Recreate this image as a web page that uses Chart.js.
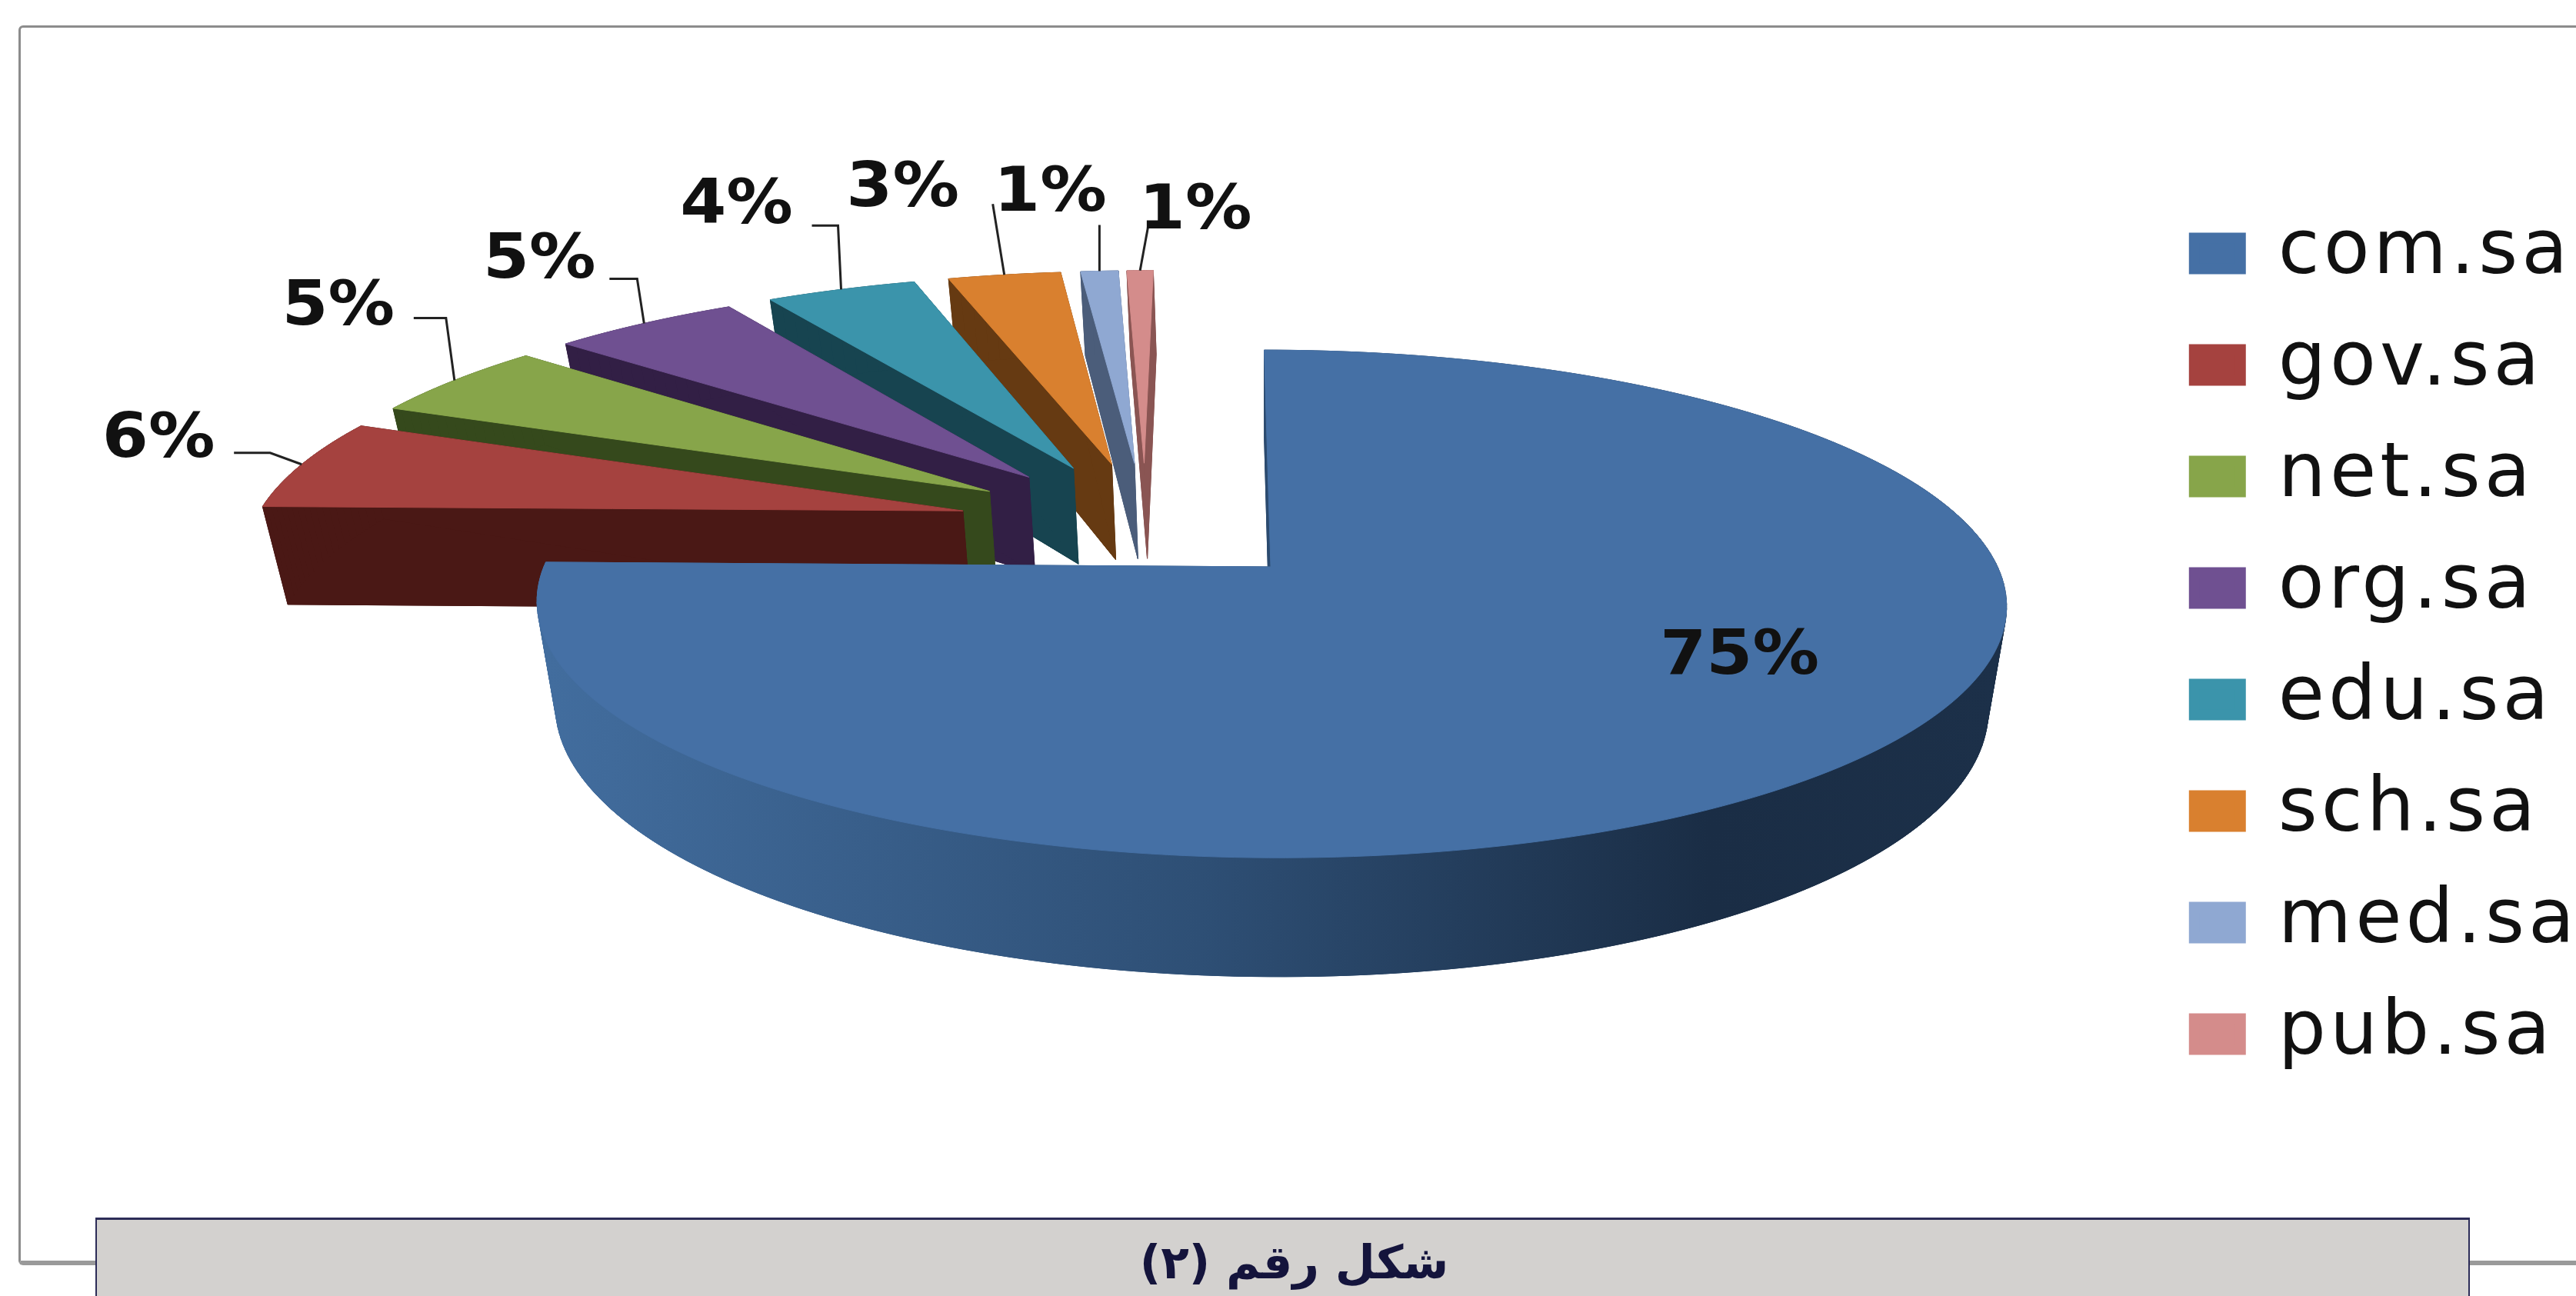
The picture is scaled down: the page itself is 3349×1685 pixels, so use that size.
<!DOCTYPE html>
<html lang="ar">
<head>
<meta charset="utf-8">
<title>شكل رقم (٢)</title>
<script src="https://cdn.jsdelivr.net/npm/chart.js@4"></script>
<style>
  html, body { margin: 0; padding: 0; background: #fff; }
  body { position: relative; width: 3349px; height: 1685px; overflow: hidden; }
  #frame {
    position: absolute; left: 24px; top: 33px; width: 3400px; height: 1603px;
    border: 3px solid #8c8c8c; border-bottom: 6px solid #9a9a9a; border-radius: 6px;
  }
  #chart { position: absolute; left: 0; top: 0; }
  #caption {
    position: absolute; left: 124px; top: 1583px; width: 3087px; height: 102px;
    box-sizing: border-box; background: #d3d1cf; padding-left: 30px;
    border: 2px solid #2c2c58; border-top-width: 3px; border-bottom: 0;
    font: bold 60px "DejaVu Sans", sans-serif; color: #14143c;
    text-align: center; line-height: 110px; direction: rtl;
  }
</style>
</head>
<body>
<div id="frame"></div>
<canvas id="chart" width="3349" height="1685"></canvas>
<div id="caption">شكل رقم (٢)</div>
<script>
// Data
const categories = ['com.sa', 'gov.sa', 'net.sa', 'org.sa', 'edu.sa', 'sch.sa', 'med.sa', 'pub.sa'];
const shares = [75.3, 6, 5, 5, 4, 3, 1, 0.7];

// Colours
const topColors = ['#4570a5', '#a5423f', '#87a54a', '#6f5091', '#3b94ab', '#d9802f', '#8fa8d2', '#d48c8b'];
const sideColors = ['#2e4f75', '#4a1815', '#35491c', '#321f45', '#174450', '#663a12', '#4b5d7a', '#8a5553'];

// How far each slice is pulled out of the pie
const explode = [183, 195, 195, 195, 195, 195, 195, 195];

// Where each label sits, relative to the middle of its slice's outer edge
const labelOffsets = [[-137, -139], [-186, -31], [-151, -93], [-136, -80], [-136, -107], [-132, -110], [-64, -99], [72, -76]];
const leaderLines = [
  [],
  [[-41, -15], [-88, -15]],
  [[-11, -81], [-53, -81]],
  [[-9, -58], [-45, -58]],
  [[-4, -83], [-38, -83]],
  [[-15, -92]],
  [[0, -60]],
  [[11, -60]]
];

// Perspective used to lay the pie down
const view = { cx: 1652, cy: 737, rx: 945, ry: 323, tilt: 0.146, depth: 132, shrink: 0.975, skew: 0.03 };

function projectTop(u, v) {
  const w = 1 - view.tilt * v;
  const y = view.cy + view.ry * v / w;
  return { x: view.cx + view.rx * u / w + view.skew * (y - view.cy), y: y, w: w };
}

function projectBottom(u, v) {
  const p = projectTop(u, v);
  return { x: view.cx + (p.x - view.cx) * view.shrink, y: p.y + view.depth / p.w };
}

// Outline of one slice, in units of the pie radius
function sliceOutline(arc, origin) {
  const mid = (arc.startAngle + arc.endAngle) / 2;
  const offset = arc.options.offset;
  const ax = arc.x + Math.cos(mid) * offset;
  const ay = arc.y + Math.sin(mid) * offset;
  const apex = { u: (ax - origin.x) / origin.r, v: (ay - origin.y) / origin.r };
  const pts = [apex];
  const steps = Math.max(4, Math.ceil((arc.endAngle - arc.startAngle) / 0.02));
  for (let i = 0; i <= steps; i++) {
    const a = arc.startAngle + (arc.endAngle - arc.startAngle) * i / steps;
    pts.push({ u: apex.u + Math.cos(a), v: apex.v + Math.sin(a) });
  }
  return { pts: pts, anchor: { u: apex.u + Math.cos(mid), v: apex.v + Math.sin(mid) } };
}

function fillPath(ctx, pts, color) {
  ctx.beginPath();
  pts.forEach((p, i) => (i ? ctx.lineTo(p.x, p.y) : ctx.moveTo(p.x, p.y)));
  ctx.closePath();
  ctx.fillStyle = color;
  ctx.strokeStyle = color;
  ctx.lineWidth = 1;
  ctx.fill();
  ctx.stroke();
}

function drawSlice(ctx, outline, topColor, sideColor) {
  const top = outline.pts.map(p => projectTop(p.u, p.v));
  const bottom = outline.pts.map(p => projectBottom(p.u, p.v));
  fillPath(ctx, bottom, sideColor);
  top.forEach((p, i) => {
    const j = (i + 1) % top.length;
    fillPath(ctx, [p, top[j], bottom[j], bottom[i]], sideColor);
  });
  fillPath(ctx, top, topColor);
}

// Chart.js works out the arcs, this lays them down in 3D
const pie3d = {
  id: 'pie3d',
  beforeLayout(chart) {
    // legend text is wide in the original
    chart.ctx.letterSpacing = '5px';
  },
  beforeDraw(chart) {
    chart.ctx.letterSpacing = '5px';
  },
  beforeDatasetsDraw(chart) {
    const ctx = chart.ctx;
    const arcs = chart.getDatasetMeta(0).data;
    const first = arcs[0];
    const firstMid = (first.startAngle + first.endAngle) / 2;
    const origin = {
      x: first.x + Math.cos(firstMid) * first.options.offset,
      y: first.y + Math.sin(firstMid) * first.options.offset,
      r: first.outerRadius
    };
    const outlines = arcs.map(arc => sliceOutline(arc, origin));

    const wall = ctx.createLinearGradient(710, 0, 2600, 0);
    wall.addColorStop(0, '#426d9e');
    wall.addColorStop(0.45, '#2e4f75');
    wall.addColorStop(0.8, '#1a2d45');
    wall.addColorStop(1, '#1c3049');

    ctx.save();
    // back slices first, the big one last
    for (let i = arcs.length - 1; i >= 0; i--) {
      drawSlice(ctx, outlines[i], topColors[i], i === 0 ? wall : sideColors[i]);
    }

    // leaders and labels
    ctx.letterSpacing = '0px';
    ctx.font = 'bold 80px "DejaVu Sans", sans-serif';
    ctx.textAlign = 'center';
    ctx.textBaseline = 'middle';
    arcs.forEach((arc, i) => {
      const a = projectTop(outlines[i].anchor.u, outlines[i].anchor.v);
      if (leaderLines[i].length) {
        ctx.beginPath();
        ctx.moveTo(a.x, a.y);
        leaderLines[i].forEach(o => ctx.lineTo(a.x + o[0], a.y + o[1]));
        ctx.strokeStyle = '#222';
        ctx.lineWidth = 3;
        ctx.stroke();
      }
      ctx.save();
      ctx.translate(a.x + labelOffsets[i][0], a.y + labelOffsets[i][1]);
      ctx.scale(1.08, 1);
      ctx.fillStyle = '#111';
      ctx.fillText(Math.round(shares[i]) + '%', 0, 0);
      ctx.restore();
    });
    ctx.restore();
    return false;
  }
};

new Chart(document.getElementById('chart'), {
  type: 'pie',
  plugins: [pie3d],
  data: {
    labels: categories,
    datasets: [{
      data: shares,
      backgroundColor: topColors,
      borderColor: topColors,
      borderWidth: 14,
      offset: explode
    }]
  },
  options: {
    responsive: false,
    animation: false,
    layout: { padding: { bottom: 11, right: -13 } },
    plugins: {
      tooltip: { enabled: false },
      legend: {
        position: 'right',
        labels: {
          boxWidth: 60,
          boxHeight: 40,
          padding: 47,
          color: '#111',
          font: { family: '"DejaVu Sans", sans-serif', size: 98 }
        }
      }
    }
  }
});
</script>
</body>
</html>
